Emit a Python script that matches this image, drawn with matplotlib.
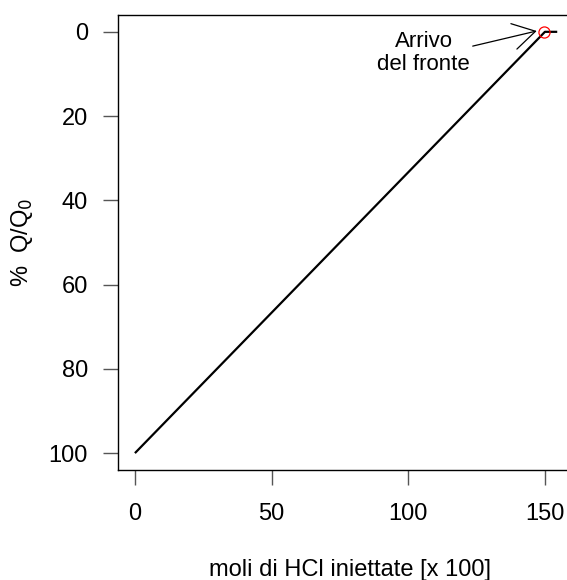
import matplotlib
matplotlib.use("Agg")
import matplotlib.pyplot as plt

plt.rcParams['font.family'] = ['Liberation Sans', 'DejaVu Sans']

# dati
moli = [0, 150, 154.5]
perc_q = [100, 0, 0]
fronte_x = [149.7]
fronte_y = [0]
xticks = [0, 50, 100, 150]
yticks = [0, 20, 40, 60, 80, 100]

fig = plt.figure(figsize=(5.67, 5.8), dpi=100)
ax = fig.add_axes([0.2076, 0.1897, 0.820, 0.7845])

ax.plot(moli, perc_q, color='black', lw=1.6, solid_capstyle='butt')
ax.plot(fronte_x, fronte_y, 'o', mfc='none', mec='red', ms=8, mew=0.9)

ax.annotate("Arrivo\ndel fronte", xy=(147, -0.2), xytext=(105.6, 5.0),
            ha='center', va='center', fontsize=16, linespacing=1.1,
            arrowprops=dict(arrowstyle='->,head_length=16,head_width=9.4',
                            mutation_scale=1, color='black', lw=0.9,
                            shrinkA=0, shrinkB=0, relpos=(0.92, 0.6)))

ax.set_xlim(-6.3, 163.8)
ax.set_ylim(104, -4)
ax.set_xticks(xticks)
ax.set_yticks(yticks)
ax.tick_params(labelsize=17, length=10.5, width=1, color='#555555')
ax.tick_params(axis='x', pad=13)
ax.tick_params(axis='y', pad=11)
for s in ax.spines.values():
    s.set_linewidth(1)

ax.set_xlabel("moli di HCl iniettate [x 100]", fontsize=17, labelpad=25)
ax.set_ylabel(r"%  Q/Q$_0$", fontsize=17, labelpad=10)

fig.savefig("out.png", dpi=100)
